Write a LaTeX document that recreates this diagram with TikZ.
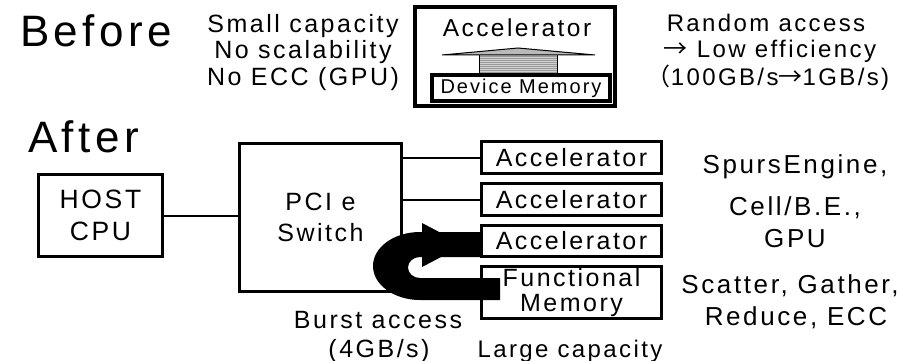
\documentclass[tikz,border=0pt]{standalone}
\usepackage{fontspec}
\setmainfont{Liberation Sans}[LetterSpace=10]
\newfontfamily\cjkfont{Noto Sans CJK JP}
\newcommand\fsz[2]{\fontsize{#1}{#2}\selectfont}
\tikzset{
  box/.style={draw, line width=3.2pt, inner sep=0pt, align=center},
  bigbox/.style={draw, line width=3.6pt, inner sep=0pt, align=center},
  lbl/.style={anchor=base, inner sep=0pt, font=\fsz{25}{30}},
  title/.style={anchor=base west, inner sep=0pt, font=\fsz{44}{50}},
  link/.style={line width=2pt},
  accbox/.style={box, minimum width=179.8pt, font=\fsz{25}{28}},
}
\begin{document}
\begin{tikzpicture}[x=1pt,y=-1pt]
\useasboundingbox (0,0) rectangle (899,361);

% ---------- Before ----------
\node[title] (before) at (20,47) {Before};
\node[lbl] (b1) at (303,33) {Small capacity};
\node[lbl] (b2) at (303,59) {No scalability};
\node[lbl] (b3) at (303,85) {No ECC (GPU)};

\node[bigbox, minimum width=200.5pt, minimum height=99.5pt] (bbox) at (515,56.5) {};
\node[inner sep=0pt, anchor=base, font=\fsz{24.5}{28}] (bacc) at (517,37) {Accelerator};
\node[bigbox, minimum width=178.5pt, minimum height=26.5pt, font=\fsz{20}{24}] (devmem) at (521,88) {Device Memory};

% wide arrow between accelerator and device memory
\fill[gray!35] (479,55) rectangle (557,73);
\foreach \yy in {56.5,58.5,...,72.5} \draw[gray!80, line width=0.9pt] (479,\yy) -- (557,\yy);
\draw[line width=1pt] (479,55) -- (479,73) (557,55) -- (557,73);
\filldraw[fill=gray!55, draw=black, line width=1pt] (442,55) -- (518,48) -- (595,55) -- cycle;

\node[lbl, font=\fsz{24}{28}] (r1) at (766,32) {Random access};
\node[lbl, font=\fsz{24}{28}] (r2) at (770,58) {{\cjkfont →} Low efficiency};
\node[lbl, font=\fsz{24}{28}] (r3) at (768,85) {{\cjkfont （}100GB/s{\cjkfont →}1GB/s)};

% ---------- After ----------
\node[title] (after) at (28,152) {After};

\node[box, minimum width=123.8pt, minimum height=81.8pt, font=\fsz{26.5}{32}] (host) at (100.5,215.5) {HOST\\CPU};
\node[box, minimum width=161.8pt, minimum height=147.8pt, font=\fsz{25}{31}] (switch) at (320.5,217.5) {PCI e\\Switch};

\node[accbox, minimum height=31.8pt] (acc1) at (571.5,157.5) {Accelerator};
\node[accbox, minimum height=31.8pt] (acc2) at (571.5,199.5) {Accelerator};
\node[accbox, minimum height=30.8pt] (acc3) at (571.5,241) {Accelerator};
\node[box, minimum width=179.8pt, minimum height=51.8pt, font=\fsz{25}{25}] (fmem) at (571.5,292.5) {Functional\\Memory};

\draw[link] (host.east) -- (host.east -| switch.west);
\draw[link] (acc1.west -| switch.east) -- (acc1.west);
\draw[link] (acc2.west -| switch.east) -- (acc2.west);
\draw[link] (acc3.west -| switch.east) -- (acc3.west);

% burst access U-turn arrow (from functional memory to accelerator)
\coordinate (ustart) at (500,300);
\coordinate (uend) at (acc3.west |- {(0,232)});
\fill[black] (ustart) -- (420,300)
   arc[start angle=270, end angle=90, x radius=47pt, y radius=34pt]
   -- (uend) -- ++(0,25) -- (420,257)
   arc[start angle=90, end angle=270, x radius=12pt, y radius=10.5pt]
   -- (500,278) -- cycle;
\fill[black] (422,223) -- (422,267) -- (464,245) -- cycle;

\node[lbl, font=\fsz{26}{30}] (s1) at (795,173) {SpursEngine,};
\node[lbl, font=\fsz{26}{30}] (s2) at (795,215) {Cell/B.E.,};
\node[lbl, font=\fsz{26}{30}] (s3) at (795,247) {GPU};
\node[lbl, font=\fsz{26}{30}] (s4) at (790,293) {Scatter, Gather,};
\node[lbl, font=\fsz{26}{30}] (s5) at (796,325) {Reduce, ECC};

\node[lbl] (burst) at (378,328) {Burst access};
\node[lbl] (rate) at (379,357) {(4GB/s)};
\node[lbl, font=\fsz{24}{28}] (large) at (570,357) {Large capacity};
\end{tikzpicture}
\end{document}
